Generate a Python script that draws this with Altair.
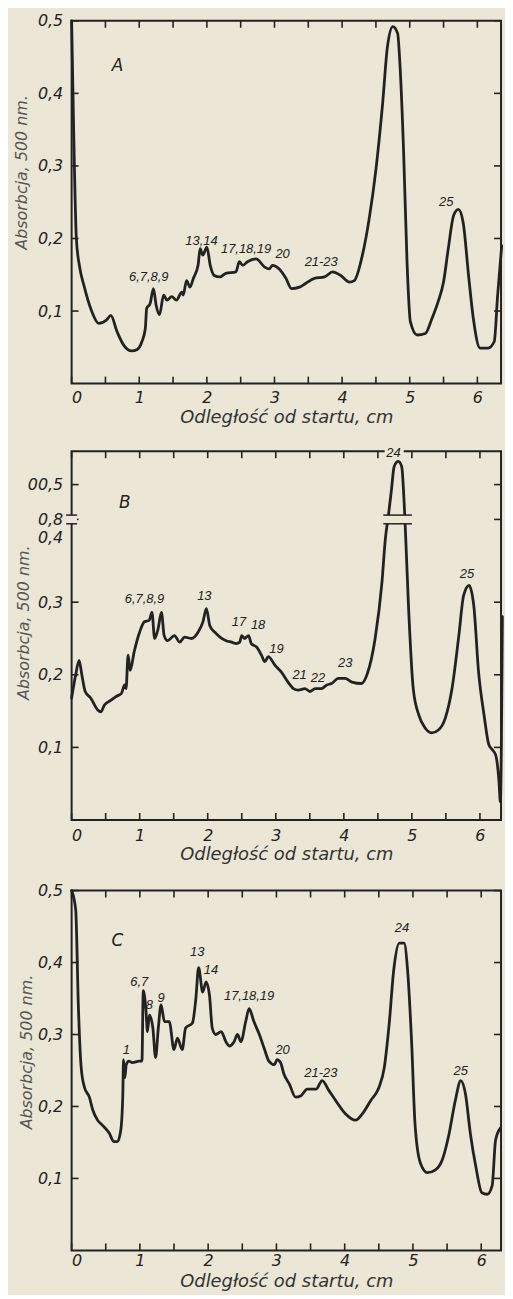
import altair as alt
import pandas as pd

# ---------------- Panel A ----------------
A_x = [0.00, 0.03, 0.07, 0.12, 0.18, 0.30, 0.40, 0.52, 0.58, 0.67,
       0.77, 0.89, 0.97, 1.04, 1.09, 1.11, 1.16, 1.21, 1.25, 1.30,
       1.36, 1.41, 1.48, 1.55, 1.63, 1.65, 1.70, 1.75, 1.80, 1.87,
       1.90, 1.94, 2.00, 2.05, 2.11, 2.19, 2.28, 2.43, 2.48, 2.53,
       2.60, 2.73, 2.85, 2.92, 2.97, 3.07, 3.17, 3.25, 3.37, 3.46,
       3.59, 3.74, 3.86, 3.98, 4.11, 4.18, 4.30, 4.40, 4.50, 4.60,
       4.67, 4.75, 4.82, 4.86, 4.91, 4.96, 5.01, 5.11, 5.23, 5.33,
       5.42, 5.50, 5.57, 5.65, 5.72, 5.79, 5.87, 5.94, 6.04, 6.16,
       6.25, 6.30, 6.36]
A_y = [0.500, 0.350, 0.200, 0.160, 0.136, 0.099, 0.083, 0.088, 0.094, 0.072,
       0.053, 0.045, 0.047, 0.058, 0.076, 0.104, 0.110, 0.131, 0.108, 0.095,
       0.122, 0.115, 0.120, 0.115, 0.126, 0.122, 0.142, 0.133, 0.145, 0.163,
       0.186, 0.177, 0.188, 0.163, 0.149, 0.147, 0.152, 0.154, 0.168, 0.163,
       0.168, 0.172, 0.161, 0.158, 0.163, 0.158, 0.145, 0.131, 0.133, 0.138,
       0.145, 0.147, 0.154, 0.149, 0.140, 0.142, 0.177, 0.227, 0.295, 0.387,
       0.464, 0.492, 0.483, 0.432, 0.318, 0.168, 0.085, 0.067, 0.069, 0.090,
       0.113, 0.140, 0.186, 0.232, 0.240, 0.222, 0.149, 0.090, 0.049, 0.049,
       0.058, 0.122, 0.190]
A_lab = ["6,7,8,9", "13,14", "17,18,19", "20", "21-23", "25"]
A_lab_x = [1.14, 1.92, 2.58, 3.12, 3.69, 5.54]
A_lab_y = [0.147, 0.197, 0.186, 0.179, 0.168, 0.250]

# ---------------- Panel B ----------------
B_x = [0.00, 0.06, 0.11, 0.15, 0.20, 0.28, 0.38, 0.43, 0.48, 0.58,
       0.65, 0.73, 0.78, 0.80, 0.83, 0.86, 0.92, 1.00, 1.07, 1.14,
       1.18, 1.22, 1.27, 1.32, 1.36, 1.41, 1.51, 1.59, 1.66, 1.76,
       1.86, 1.93, 1.98, 2.03, 2.10, 2.18, 2.27, 2.35, 2.42, 2.47,
       2.50, 2.54, 2.60, 2.64, 2.72, 2.79, 2.84, 2.89, 2.99, 3.08,
       3.18, 3.26, 3.33, 3.43, 3.50, 3.58, 3.67, 3.75, 3.82, 3.92,
       4.02, 4.12, 4.26, 4.34, 4.46, 4.56, 4.61, 4.66, 4.70, 4.74,
       4.80, 4.85, 4.90, 4.95, 5.02, 5.10, 5.20, 5.29, 5.39, 5.49,
       5.59, 5.69, 5.76, 5.84, 5.91, 5.98, 6.06, 6.13, 6.18, 6.23,
       6.28, 6.30, 6.33]
B_y = [0.168, 0.200, 0.220, 0.200, 0.177, 0.168, 0.152, 0.149, 0.158, 0.165,
       0.170, 0.174, 0.186, 0.181, 0.227, 0.206, 0.232, 0.259, 0.273, 0.275,
       0.286, 0.250, 0.263, 0.286, 0.254, 0.247, 0.254, 0.245, 0.252, 0.250,
       0.259, 0.273, 0.291, 0.268, 0.259, 0.252, 0.247, 0.245, 0.243, 0.245,
       0.254, 0.250, 0.254, 0.243, 0.238, 0.227, 0.218, 0.225, 0.213, 0.204,
       0.190, 0.181, 0.179, 0.181, 0.177, 0.181, 0.181, 0.186, 0.188, 0.195,
       0.195, 0.190, 0.188, 0.200, 0.250, 0.327, 0.387, 0.423, 0.455, 0.487,
       0.494, 0.487, 0.410, 0.295, 0.181, 0.145, 0.126, 0.120, 0.124, 0.140,
       0.181, 0.254, 0.309, 0.323, 0.295, 0.204, 0.145, 0.104, 0.097, 0.090,
       0.053, 0.025, 0.280]
B_lab = ["6,7,8,9", "13", "17", "18", "19", "21", "22", "23", "24", "25"]
B_lab_x = [1.07, 1.95, 2.46, 2.74, 3.01, 3.35, 3.62, 4.02, 4.73, 5.81]
B_lab_y = [0.305, 0.309, 0.273, 0.268, 0.236, 0.200, 0.195, 0.216, 0.506, 0.339]
# paper-coloured covers with double break lines (left axis, peak 24) and
# a gap in the top frame behind the label "24"
BRK_X1 = [-0.08, 4.58]
BRK_X2 = [0.08, 5.00]
BRK_Y1 = [0.408, 0.408]
BRK_Y2 = [0.420, 0.420]
GAP_X1 = [4.60]
GAP_X2 = [4.88]
GAP_Y1 = [0.499]
GAP_Y2 = [0.515]

# ---------------- Panel C ----------------
C_x = [0.00, 0.06, 0.10, 0.14, 0.19, 0.26, 0.31, 0.38, 0.45, 0.55,
       0.62, 0.67, 0.72, 0.75, 0.76, 0.78, 0.80, 0.84, 0.89, 0.99,
       1.03, 1.05, 1.09, 1.11, 1.14, 1.19, 1.23, 1.27, 1.31, 1.36,
       1.43, 1.50, 1.55, 1.62, 1.67, 1.77, 1.82, 1.86, 1.92, 1.97,
       2.02, 2.06, 2.11, 2.19, 2.26, 2.31, 2.38, 2.43, 2.48, 2.55,
       2.60, 2.67, 2.75, 2.82, 2.89, 2.97, 3.01, 3.06, 3.11, 3.19,
       3.28, 3.36, 3.45, 3.58, 3.67, 3.77, 3.87, 4.01, 4.16, 4.26,
       4.38, 4.50, 4.58, 4.65, 4.72, 4.80, 4.87, 4.92, 4.98, 5.03,
       5.11, 5.21, 5.33, 5.43, 5.52, 5.62, 5.70, 5.77, 5.84, 5.92,
       6.01, 6.09, 6.16, 6.21, 6.28]
C_y = [0.500, 0.473, 0.336, 0.254, 0.226, 0.213, 0.195, 0.181, 0.174, 0.163,
       0.151, 0.151, 0.167, 0.217, 0.265, 0.240, 0.258, 0.263, 0.261, 0.263,
       0.263, 0.361, 0.332, 0.304, 0.327, 0.309, 0.268, 0.309, 0.341, 0.318,
       0.318, 0.279, 0.295, 0.279, 0.309, 0.316, 0.350, 0.393, 0.359, 0.373,
       0.354, 0.309, 0.300, 0.304, 0.290, 0.284, 0.290, 0.300, 0.290, 0.318,
       0.336, 0.318, 0.300, 0.281, 0.263, 0.258, 0.265, 0.261, 0.245, 0.231,
       0.213, 0.215, 0.224, 0.224, 0.236, 0.222, 0.208, 0.190, 0.181, 0.190,
       0.208, 0.226, 0.254, 0.313, 0.391, 0.427, 0.427, 0.391, 0.290, 0.176,
       0.121, 0.108, 0.112, 0.126, 0.158, 0.208, 0.236, 0.217, 0.163, 0.117,
       0.080, 0.078, 0.090, 0.153, 0.170]
C_lab = ["1", "6,7", "8", "9", "13", "14", "17,18,19", "20", "21-23", "24", "25"]
C_lab_x = [0.80, 0.99, 1.14, 1.31, 1.84, 2.04, 2.60, 3.09, 3.65, 4.84, 5.70]
C_lab_y = [0.279, 0.373, 0.341, 0.350, 0.414, 0.389, 0.354, 0.279, 0.247, 0.448, 0.249]

X_TICKS = [0, 0.5, 1, 1.5, 2, 2.5, 3, 3.5, 4, 4.5, 5, 5.5, 6]
Y_TICKS = [0.1, 0.2, 0.3, 0.4, 0.5]
B_Y_TICKS = [0.1, 0.2, 0.3, 0.414, 0.462]

X_TITLE = "Odległość od startu, cm"
Y_TITLE = "Absorbcja, 500 nm."

FONT = "DejaVu Sans"
LABFONT = "Liberation Sans"
INK = "#222222"
PAPER = "#ebe6d6"
TICK = 7  # tick length in pixels, converted to data units per panel

STD_Y_EXPR = "replace(format(datum.value, '.1f'), '.', ',')"
B_Y_EXPR = ("datum.value > 0.45 ? '00,5' : datum.value > 0.4 ? ['0,8', '0,4'] : "
            "replace(format(datum.value, '.1f'), '.', ',')")
X_EXPR = "datum.value % 1 == 0 ? format(datum.value, 'd') : ''"


def panel(cx, cy, lt, lx, ly, letter, letter_x, letter_y, w, h, ytop, xmax,
          yticks, yexpr, xlabpad, xtitle_y, ytitle_x, ytitle_y, covers=None):
    curve = pd.DataFrame({"x": cx, "y": cy})
    labs = pd.DataFrame({"t": lt, "x": lx, "y": ly})
    let = pd.DataFrame({"t": [letter], "x": [letter_x], "y": [letter_y]})
    ty = TICK * ytop / h
    tx = TICK * xmax / w
    n, m = len(X_TICKS), len(yticks)
    xtick_df = pd.DataFrame({
        "x1": X_TICKS * 2, "x2": X_TICKS * 2,
        "y1": [0.0] * n + [ytop - ty] * n,
        "y2": [ty] * n + [ytop] * n})
    ytick_df = pd.DataFrame({
        "x1": [0.0] * m + [xmax - tx] * m,
        "x2": [tx] * m + [xmax] * m,
        "y1": list(yticks) * 2, "y2": list(yticks) * 2})
    xs = alt.Scale(domain=[0, xmax], nice=False, zero=False)
    ys = alt.Scale(domain=[0, ytop], nice=False, zero=False)

    line = alt.Chart(curve).mark_line(
        color=INK, strokeWidth=2.8, interpolate="monotone",
        strokeJoin="round", strokeCap="round"
    ).encode(
        x=alt.X("x:Q", scale=xs, axis=alt.Axis(
            orient="bottom", values=X_TICKS, labelExpr=X_EXPR,
            title=X_TITLE, ticks=False, tickSize=0, domain=False, grid=False,
            labelPadding=xlabpad, titleY=xtitle_y, titleBaseline="middle")),
        y=alt.Y("y:Q", scale=ys, axis=alt.Axis(
            orient="left", values=yticks, labelExpr=yexpr,
            title=Y_TITLE, ticks=False, tickSize=0, domain=False, grid=False,
            labelPadding=9, titleX=ytitle_x, titleY=ytitle_y,
            titleBaseline="middle", titleAlign="center")),
    )

    def X(f):
        return alt.X(f, scale=xs, axis=None)

    def Y(f):
        return alt.Y(f, scale=ys, axis=None)

    text = alt.Chart(labs).mark_text(
        font=LABFONT, fontSize=13, fontStyle="italic", color=INK,
        baseline="middle", align="center"
    ).encode(x=X("x:Q"), y=Y("y:Q"), text="t:N")
    letter_mark = alt.Chart(let).mark_text(
        font=FONT, fontSize=17, fontStyle="italic", color=INK,
        baseline="middle", align="center"
    ).encode(x=X("x:Q"), y=Y("y:Q"), text="t:N")
    tk = dict(color=INK, strokeWidth=1.6)
    xticks = alt.Chart(xtick_df).mark_rule(**tk).encode(
        x=X("x1:Q"), y=Y("y1:Q"), y2="y2:Q")
    yticks_m = alt.Chart(ytick_df).mark_rule(**tk).encode(
        x=X("x1:Q"), x2="x2:Q", y=Y("y1:Q"))
    layers = [line, xticks, yticks_m]
    if covers is not None:
        brk, gap = covers
        bd = pd.DataFrame(brk)
        gd = pd.DataFrame(gap)
        cover = alt.Chart(bd).mark_rect(fill=PAPER).encode(
            x=X("x1:Q"), x2="x2:Q", y=Y("y1:Q"), y2="y2:Q")
        r1 = alt.Chart(bd).mark_rule(color=INK, strokeWidth=1.5).encode(
            x=X("x1:Q"), x2="x2:Q", y=Y("y1:Q"))
        r2 = alt.Chart(bd).mark_rule(color=INK, strokeWidth=1.5).encode(
            x=X("x1:Q"), x2="x2:Q", y=Y("y2:Q"))
        gcover = alt.Chart(gd).mark_rect(fill=PAPER).encode(
            x=X("x1:Q"), x2="x2:Q", y=Y("y1:Q"), y2="y2:Q")
        layers += [cover, r1, r2, gcover]
    layers += [text, letter_mark]
    return alt.layer(*layers).resolve_axis(
        x="independent", y="independent"
    ).properties(width=w, height=h)


pa = panel(A_x, A_y, A_lab, A_lab_x, A_lab_y, "A", 0.68, 0.438,
           432, 365, 0.5, 6.35, Y_TICKS, STD_Y_EXPR,
           xlabpad=6, xtitle_y=34, ytitle_x=-50, ytitle_y=152)
pb = panel(B_x, B_y, B_lab, B_lab_x, B_lab_y, "B", 0.78, 0.437,
           432, 371, 0.508, 6.31, B_Y_TICKS, B_Y_EXPR,
           xlabpad=8, xtitle_y=35, ytitle_x=-48, ytitle_y=172,
           covers=({"x1": BRK_X1, "x2": BRK_X2, "y1": BRK_Y1, "y2": BRK_Y2},
                   {"x1": GAP_X1, "x2": GAP_X2, "y1": GAP_Y1, "y2": GAP_Y2}))
pc = panel(C_x, C_y, C_lab, C_lab_x, C_lab_y, "C", 0.67, 0.43,
           432, 362, 0.5, 6.29, Y_TICKS, STD_Y_EXPR,
           xlabpad=2, xtitle_y=31, ytitle_x=-45, ytitle_y=162)

chart = alt.vconcat(pa, pb, pc, spacing=17).properties(
    padding={"left": 5, "top": 0, "right": 0, "bottom": 0},
    background=PAPER,
).configure_view(
    stroke=INK, strokeWidth=2
).configure_axis(
    labelFont=FONT, labelFontSize=16, labelFontStyle="italic", labelColor=INK,
    titleFont=FONT, titleFontStyle="italic", titleFontWeight="normal",
).configure_axisX(
    titleFontSize=18, titleColor="#333333",
).configure_axisY(
    titleFontSize=16, titleColor="#555555",
)

chart.save("out.html", embed_options={"renderer": "svg", "actions": False})
